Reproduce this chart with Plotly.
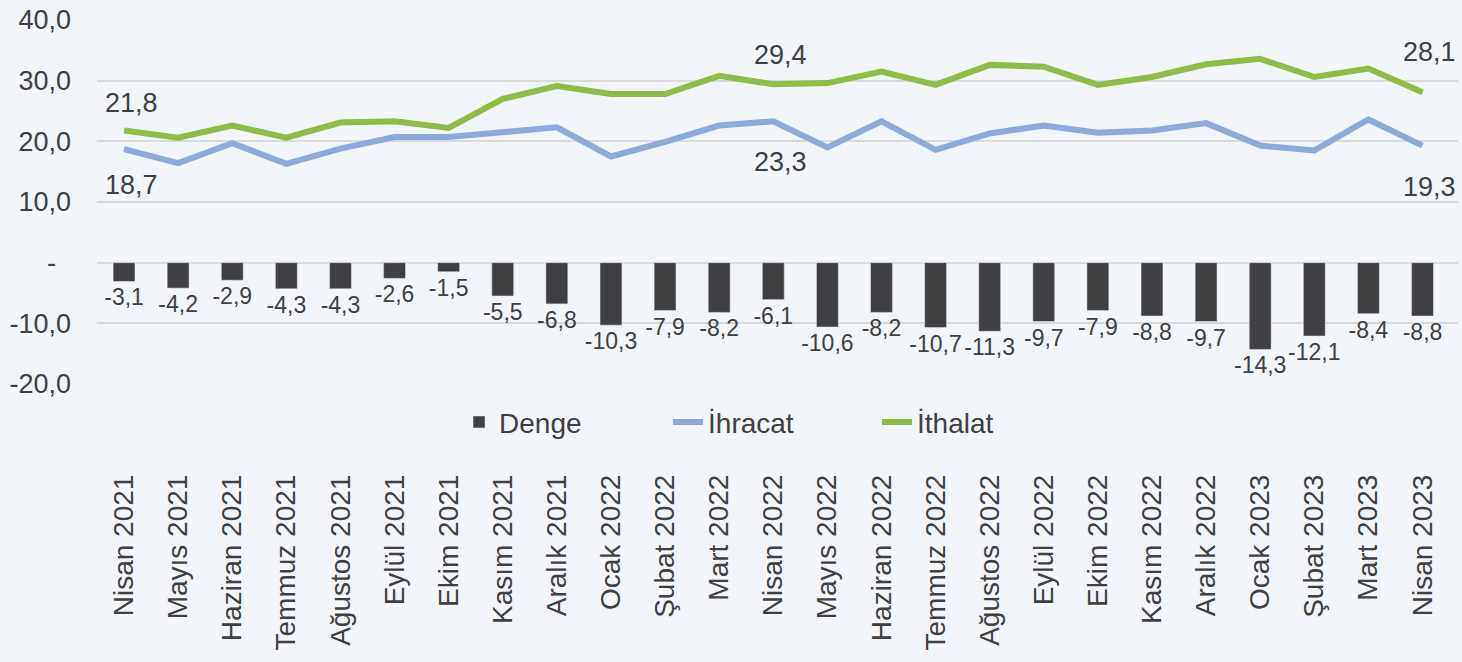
import plotly.graph_objects as go

categories = ["Nisan 2021", "Mayıs 2021", "Haziran 2021", "Temmuz 2021", "Ağustos 2021", "Eylül 2021",
              "Ekim 2021", "Kasım 2021", "Aralık 2021", "Ocak 2022", "Şubat 2022", "Mart 2022",
              "Nisan 2022", "Mayıs 2022", "Haziran 2022", "Temmuz 2022", "Ağustos 2022", "Eylül 2022",
              "Ekim 2022", "Kasım 2022", "Aralık 2022", "Ocak 2023", "Şubat 2023", "Mart 2023", "Nisan 2023"]

denge = [-3.1, -4.2, -2.9, -4.3, -4.3, -2.6, -1.5, -5.5, -6.8, -10.3, -7.9, -8.2,
         -6.1, -10.6, -8.2, -10.7, -11.3, -9.7, -7.9, -8.8, -9.7, -14.3, -12.1, -8.4, -8.8]
ihracat = [18.7, 16.4, 19.7, 16.3, 18.8, 20.7, 20.7, 21.5, 22.3, 17.5, 19.9, 22.6,
           23.3, 19.0, 23.3, 18.6, 21.3, 22.6, 21.4, 21.8, 23.0, 19.3, 18.5, 23.6, 19.3]
ithalat = [21.8, 20.6, 22.6, 20.6, 23.1, 23.3, 22.2, 27.0, 29.1, 27.8, 27.8, 30.8,
           29.4, 29.6, 31.5, 29.3, 32.6, 32.3, 29.3, 30.6, 32.7, 33.6, 30.6, 32.0, 28.1]
labeled_idx = [0, 12, 24]

y_ticks = [-20, -10, 0, 10, 20, 30, 40]
y_ticktext = ["-20,0", "-10,0", "-" + "\u00a0" * 2, "10,0", "20,0", "30,0", "40,0"]

def fmt(v):
    return f"{v:.1f}".replace(".", ",")

TXT = "#404040"
FONT = "Liberation Sans, Arial, Helvetica, sans-serif"

fig = go.Figure()
fig.add_trace(go.Bar(
    x=categories, y=denge, name="Denge", marker_color="#404042", width=0.405,
    text=[fmt(v) for v in denge], textposition="outside", cliponaxis=False,
    constraintext="none",
    textfont=dict(size=23, color=TXT, family=FONT),
))
fig.add_trace(go.Scatter(
    x=categories, y=ihracat, name="İhracat", mode="lines",
    line=dict(color="#8EA9DB", width=6),
))
fig.add_trace(go.Scatter(
    x=categories, y=ithalat, name="İthalat", mode="lines",
    line=dict(color="#8FBC45", width=6),
))

# value labels on the lines (first, middle, last point)
green_shift = {0: 27, 12: 29, 24: 40}
blue_shift = {0: -36, 12: -41, 24: -41}
for i in labeled_idx:
    fig.add_annotation(x=categories[i], y=ithalat[i], text=fmt(ithalat[i]), showarrow=False,
                       xshift=7, yshift=green_shift[i], font=dict(size=27, color=TXT, family=FONT))
    fig.add_annotation(x=categories[i], y=ihracat[i], text=fmt(ihracat[i]), showarrow=False,
                       xshift=7, yshift=blue_shift[i], font=dict(size=27, color=TXT, family=FONT))

fig.update_layout(
    width=1462, height=662,
    margin=dict(l=97, r=4, t=20, b=278),
    paper_bgcolor="#F2F5FA", plot_bgcolor="#F2F5FA",
    font=dict(family=FONT, color=TXT, size=24),
    showlegend=True,
    legend=dict(orientation="h", x=0.266, xanchor="left", y=-0.105, yanchor="middle",
                font=dict(size=28, color=TXT), bgcolor="rgba(0,0,0,0)",
                entrywidth=164, entrywidthmode="pixels"),
    xaxis=dict(tickangle=-90, showgrid=False, zeroline=False, showline=False, ticks="",
               ticklabelstandoff=84, tickfont=dict(size=28, color=TXT)),
    yaxis=dict(range=[-20, 40], tickvals=y_ticks, ticktext=y_ticktext, showgrid=True,
               gridcolor="#D9D9D9", gridwidth=2, zeroline=True, zerolinecolor="#D9D9D9",
               zerolinewidth=2, showline=False, ticks="", ticklabelstandoff=25,
               tickfont=dict(size=27, color=TXT)),
)

fig.write_html("out.html", config={"displayModeBar": False},
               post_script="document.body.style.margin='0';document.body.style.overflow='hidden';")
